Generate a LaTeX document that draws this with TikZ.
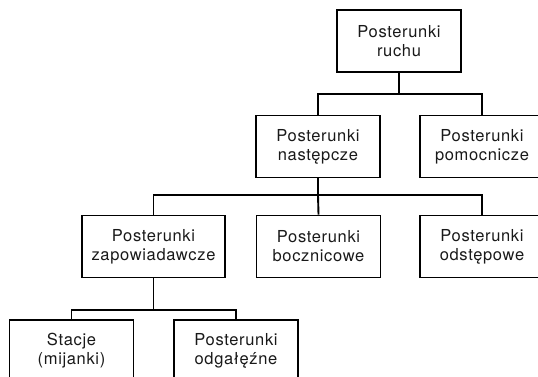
\documentclass[tikz,border=0pt]{standalone}
\usepackage{fontspec}
\setmainfont{TeX Gyre Heros}[LetterSpace=4]
\begin{document}
\begin{tikzpicture}[x=1pt,y=-1pt,
  box/.style={draw=black, line width=1.9pt, minimum width=124pt, minimum height=62pt,
    align=center, inner sep=0pt, font=\fontsize{16.5}{19}\selectfont, text=black!90},
  conn/.style={draw=black, line width=1.9pt}]
\useasboundingbox (0,0) rectangle (538,376);
\clip (0,0) rectangle (538,376);
\node[box] (top) at (399,41) {Posterunki\\ruchu};
\node[box] (naste) at (318,146.5) {Posterunki\\następcze};
\node[box] (pomoc) at (482,146.5) {Posterunki\\pomocnicze};
\node[box, minimum width=143pt] (zapow) at (153.5,246.5) {Posterunki\\zapowiadawcze};
\node[box] (bocz) at (318.5,246.5) {Posterunki\\bocznicowe};
\node[box] (odst) at (482,246.5) {Posterunki\\odstępowe};
\node[box] (stacje) at (71.5,351) {Stacje\\(mijanki)};
\node[box] (odgal) at (236,351) {Posterunki\\odgałęźne};
\coordinate (b1) at (399,94);
\coordinate (b2) at (318,195);
\coordinate (b3) at (153.5,310);
\draw[conn] (top.south) -- (b1);
\draw[conn] (naste.north) |- (b1) -| (pomoc.north);
\draw[conn] (naste.south) -- (b2);
\draw[conn] (zapow.north) |- (b2) -| (odst.north);
\draw[conn] (b2) -- (bocz.north);
\draw[conn] (zapow.south) -- (b3);
\draw[conn] (stacje.north) |- (b3) -| (odgal.north);
\end{tikzpicture}
\end{document}
